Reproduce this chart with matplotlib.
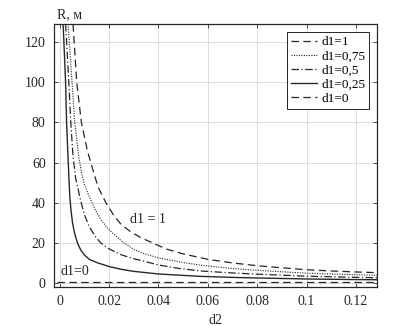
import matplotlib
matplotlib.use("Agg")
import matplotlib.pyplot as plt

plt.rcParams['font.family'] = ['Liberation Serif', 'DejaVu Serif']

# d1 = 1
x_d1_1 = [0.0054, 0.0069, 0.0088, 0.0112, 0.0133, 0.0155, 0.0187, 0.022, 0.025, 0.0288,
          0.033, 0.0376, 0.043, 0.05, 0.06, 0.07, 0.08, 0.09, 0.1, 0.11, 0.12, 0.13]
r_d1_1 = [129, 100, 80, 66, 57, 48, 40, 33.5, 29, 25.5,
          22.5, 20, 17, 14.5, 11.8, 10, 8.6, 7.6, 6.6, 6.0, 5.5, 5.1]
# d1 = 0.75
x_d1_075 = [0.0034, 0.005, 0.0061, 0.0077, 0.009, 0.01, 0.012, 0.0146, 0.017, 0.02, 0.0254,
            0.0304, 0.035, 0.04, 0.05, 0.057, 0.07, 0.08, 0.09, 0.1, 0.11, 0.12, 0.13]
r_d1_075 = [129, 100, 80, 63, 54, 49, 43, 36, 31, 26.5, 20.5,
            16.5, 14.3, 12.5, 10.2, 8.9, 7.2, 6.3, 5.6, 4.9, 4.5, 4.1, 3.8]
# d1 = 0.5
x_d1_05 = [0.0024, 0.0037, 0.0045, 0.0054, 0.0065, 0.0085, 0.01, 0.012, 0.0145, 0.0166, 0.02,
           0.025, 0.0304, 0.04, 0.048, 0.057, 0.07, 0.08, 0.09, 0.1, 0.11, 0.12, 0.13]
r_d1_05 = [129, 100, 80, 63, 52, 41, 34, 28, 23, 20, 17,
           14, 12.0, 9.0, 7.3, 6.0, 5.0, 4.4, 3.9, 3.4, 3.1, 2.8, 2.6]
# d1 = 0.25
x_d1_025 = [0.0014, 0.0024, 0.0028, 0.0034, 0.0038, 0.0041, 0.0046, 0.0052, 0.006, 0.0072,
            0.0085, 0.01, 0.012, 0.015, 0.02, 0.025, 0.03, 0.04, 0.057, 0.07, 0.08, 0.1, 0.12, 0.13]
r_d1_025 = [129, 100, 80, 62, 51, 43, 36, 30, 25, 20,
            16.5, 14, 11.8, 10.2, 8.2, 6.8, 5.8, 4.5, 3.3, 2.8, 2.5, 2.0, 1.7, 1.6]
# d1 = 0
x_d1_0 = [-0.001, 0.13]
r_d1_0 = [0.3, 0.3]

labels = ['d1=1', 'd1=0,75', 'd1=0,5', 'd1=0,25', 'd1=0']
xticks = [0, 0.02, 0.04, 0.06, 0.08, 0.1, 0.12]
xticklabels = ['0', '0.02', '0.04', '0.06', '0.08', '0.1', '0.12']
yticks = [0, 20, 40, 60, 80, 100, 120]

fig = plt.figure(figsize=(4.17, 3.26), dpi=100)
ax = fig.add_axes([0.1295, 0.1196, 0.7745, 0.8064])

col = '#262626'
lw = 0.9
ax.plot(x_d1_1, r_d1_1, color=col, lw=lw, dashes=(6, 3.5), label=labels[0])
ax.plot(x_d1_075, r_d1_075, color=col, lw=lw * 0.9, dashes=(1, 1.2), label=labels[1])
ax.plot(x_d1_05, r_d1_05, color=col, lw=lw, dashes=(6, 2, 1, 2), label=labels[2])
ax.plot(x_d1_025, r_d1_025, color=col, lw=lw * 1.1, linestyle='-', label=labels[3])
ax.plot(x_d1_0, r_d1_0, color=col, lw=lw, dashes=(6, 3.5), label=labels[4])

ax.set_xlim(-0.0023, 0.1285)
ax.set_ylim(-2, 129)
ax.set_xticks(xticks)
ax.set_xticklabels(xticklabels)
ax.set_yticks(yticks)
ax.grid(True, color='#dcdcdc', lw=0.7)
ax.set_axisbelow(True)
ax.tick_params(direction='in', top=True, right=True, labelsize=10, length=3,
               width=0.6, color='#333333', labelcolor='#262626', pad=6)
for s in ax.spines.values():
    s.set_color('#262626')
    s.set_linewidth(0.9)

ax.set_xlabel('d2', fontsize=10, color='#262626', labelpad=4)
ax.text(0.008, 1.01, 'R, м', transform=ax.transAxes, fontsize=10, color='#262626',
        ha='left', va='bottom')
ax.text(0.0285, 30, 'd1 = 1', fontsize=10, color='#262626')
ax.text(0.0005, 4, 'd1=0', fontsize=10, color='#262626')

leg = ax.legend(loc='upper right', fontsize=9.5, frameon=True, fancybox=False,
                edgecolor='#262626', framealpha=1, handlelength=2.0,
                handletextpad=0.3, borderpad=0.3, labelspacing=0.15,
                borderaxespad=0.6)
leg.get_frame().set_linewidth(0.7)

fig.savefig('out.png', dpi=100)
